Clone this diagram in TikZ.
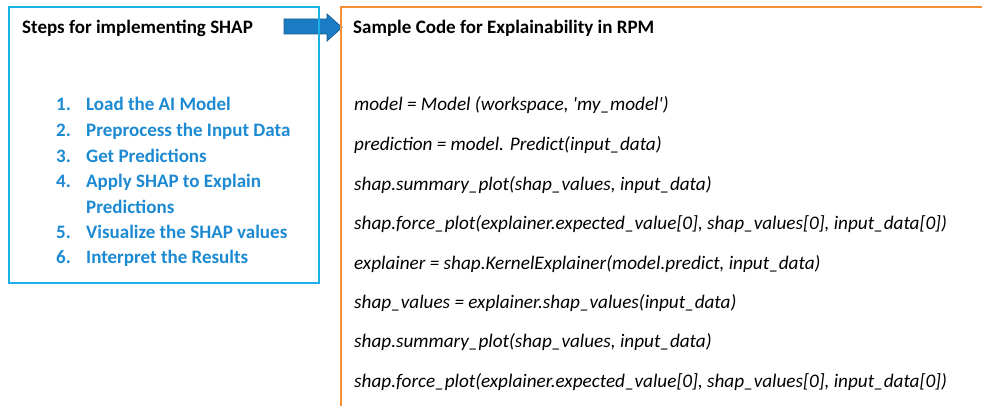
\documentclass[tikz,border=0pt]{standalone}
\usepackage{fontspec}
\setmainfont{Carlito}
\definecolor{stepblue}{HTML}{1AAFE6}
\definecolor{steptext}{HTML}{1C8AD2}
\definecolor{codeorange}{HTML}{F78F35}
\definecolor{arrowfill}{HTML}{1A7DC4}
\definecolor{arrowline}{HTML}{1A5C92}
\tikzset{
  heading/.style={anchor=base west, inner sep=0pt, font=\fontsize{19}{23}\selectfont\bfseries, text=black},
  stepnum/.style={anchor=base west, inner sep=0pt, font=\fontsize{19}{23}\selectfont\bfseries, text=steptext},
  steptxt/.style={anchor=base west, inner sep=0pt, font=\fontsize{19}{23}\selectfont\bfseries, text=steptext},
  codeline/.style={anchor=base west, inner sep=0pt, font=\fontsize{19.2}{23}\selectfont\itshape, text=black},
}
\begin{document}
\begin{tikzpicture}[x=1pt,y=-1pt]
  \useasboundingbox (0,0) rectangle (982,406);
  \fill[white] (0,0) rectangle (982,406);
  \clip (0,0) rectangle (982,406);

  % block arrow linking the two panels
  \draw[arrowline, fill=arrowfill, line width=0.8pt]
    (284,19) -- (327,19) -- (327,14) -- (342,27.5) -- (327,41) -- (327,34) -- (284,34) -- cycle;

  % panels
  \draw[stepblue, line width=2pt] (9,7) rectangle (319,283);
  \draw[codeorange, line width=2pt] (341,7) rectangle (1000,430);

  % left panel
  \node[heading] (stepstitle) at (22,34) {Steps for implementing SHAP};
  \node[stepnum] (n1) at (56,111) {1.};
  \node[steptxt] (s1) at (86,111) {Load the AI Model};
  \node[stepnum] (n2) at (56,137) {2.};
  \node[steptxt] (s2) at (86,137) {Preprocess the Input Data};
  \node[stepnum] (n3) at (56,162.5) {3.};
  \node[steptxt] (s3) at (86,162.5) {Get Predictions};
  \node[stepnum] (n4) at (56,188) {4.};
  \node[steptxt] (s4) at (86,188) {Apply SHAP to Explain};
  \node[steptxt] (s4b) at (86,213.5) {Predictions};
  \node[stepnum] (n5) at (56,238.5) {5.};
  \node[steptxt] (s5) at (86,238.5) {Visualize the SHAP values};
  \node[stepnum] (n6) at (56,263.5) {6.};
  \node[steptxt] (s6) at (86,263.5) {Interpret the Results};

  % right panel
  \node[heading] (codetitle) at (353,34) {Sample Code for Explainability in RPM};
  \node[codeline] (c1) at (354,111) {model = Model (workspace, \textquotesingle my\_model\textquotesingle)};
  \node[codeline] (c2) at (354,151) {prediction = model. Predict(input\_data)};
  \node[codeline] (c3) at (354,190) {shap.summary\_plot(shap\_values, input\_data)};
  \node[codeline] (c4) at (354,229.5) {shap.force\_plot(explainer.expected\_value[0], shap\_values[0], input\_data[0])};
  \node[codeline] (c5) at (354,269) {explainer = shap.KernelExplainer(model.predict, input\_data)};
  \node[codeline] (c6) at (354,308) {shap\_values = explainer.shap\_values(input\_data)};
  \node[codeline] (c7) at (354,347.5) {shap.summary\_plot(shap\_values, input\_data)};
  \node[codeline] (c8) at (354,387) {shap.force\_plot(explainer.expected\_value[0], shap\_values[0], input\_data[0])};
\end{tikzpicture}
\end{document}
